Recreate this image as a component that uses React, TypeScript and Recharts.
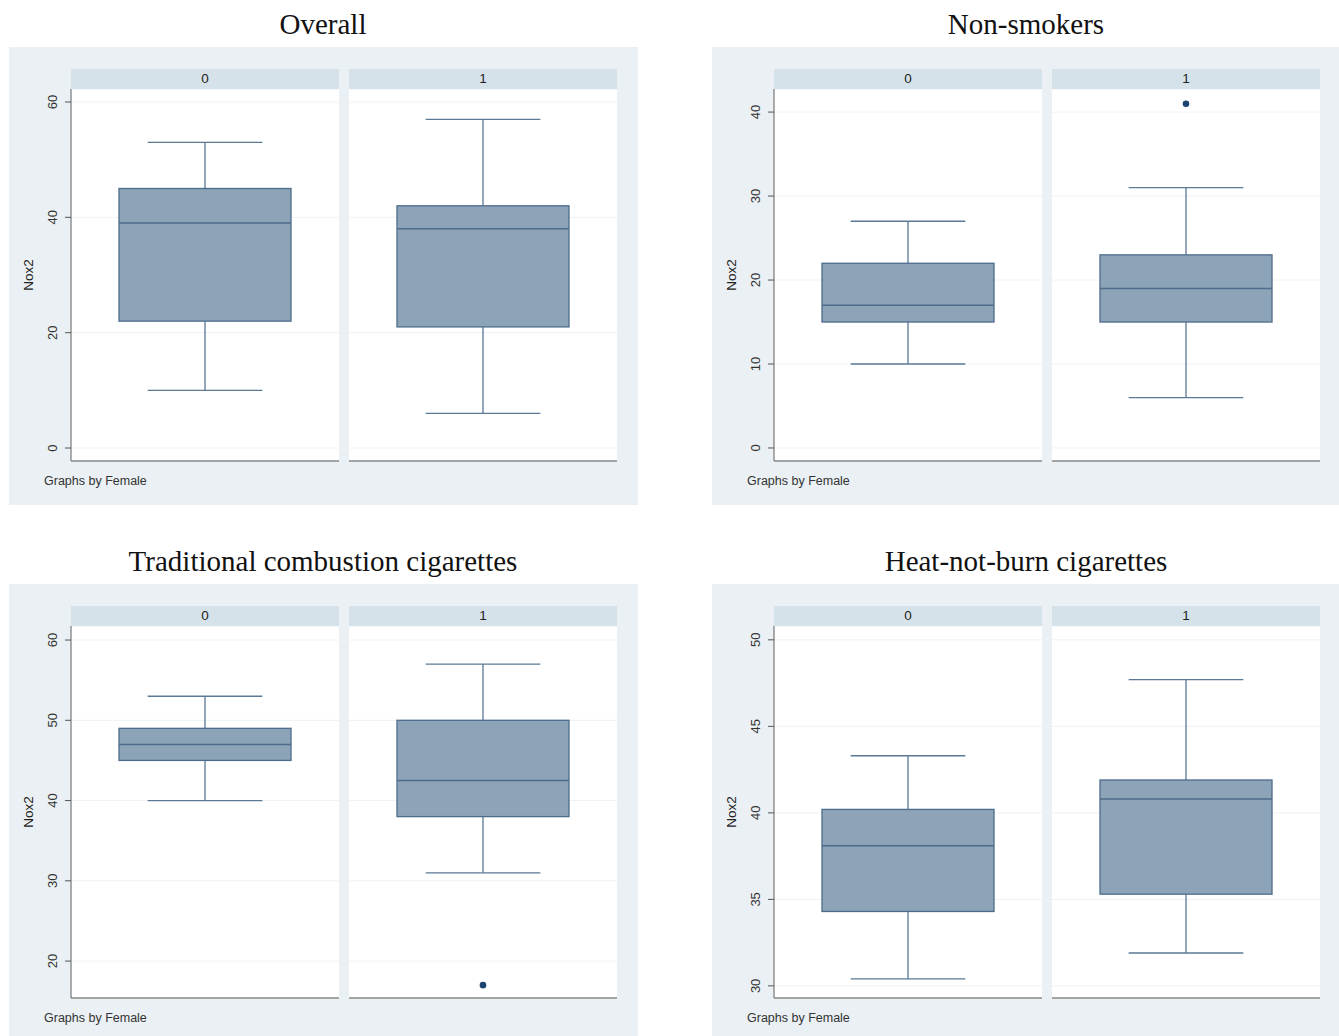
import React from 'react';
import { ComposedChart, Bar, Line, XAxis, YAxis, CartesianGrid } from 'recharts';

// ---- data ----
const panelTitles = ['Overall', 'Non-smokers', 'Traditional combustion cigarettes', 'Heat-not-burn cigarettes'];
const facetLabels = ['0', '1'];

// [min whisker, Q1, median, Q3, max whisker] per facet (Female = 0, 1)
const overallStats = [
  [10, 22, 39, 45, 53],
  [6, 21, 38, 42, 57],
];
const nonSmokerStats = [
  [10, 15, 17, 22, 27],
  [6, 15, 19, 23, 31],
];
const traditionalStats = [
  [40, 45, 47, 49, 53],
  [31, 38, 42.5, 50, 57],
];
const heatNotBurnStats = [
  [30.4, 34.3, 38.1, 40.2, 43.3],
  [31.9, 35.3, 40.8, 41.9, 47.7],
];

// outlier per facet (null = none)
const overallOutliers = [null, null];
const nonSmokerOutliers = [null, 41];
const traditionalOutliers = [null, 17];
const heatNotBurnOutliers = [null, null];

const overallTicks = [0, 20, 40, 60];
const nonSmokerTicks = [0, 10, 20, 30, 40];
const traditionalTicks = [20, 30, 40, 50, 60];
const heatNotBurnTicks = [30, 35, 40, 45, 50];

const overallDomain = [-2.25, 62.25];
const nonSmokerDomain = [-1.55, 42.75];
const traditionalDomain = [15.4, 61.75];
const heatNotBurnDomain = [29.3, 50.8];

// ---- styles ----
const BG = '#eaf0f3';
const STRIP = '#d6e2ea';
const BOX_FILL = '#8ca3b8';
const BOX_LINE = '#4d6c8b';
const WHISKER = '#5b7895';
const DOT = '#1c4470';
const AXIS = '#555';
const FONT = '"Liberation Sans", Arial, Helvetica, sans-serif';

const BoxShape = (props: any) => {
  const { x, y, width, height, payload } = props;
  const [mn, q1, med, q3, mx] = payload.stats;
  const py = (v: number) => y + (height * (mx - v)) / (mx - mn);
  const cx = x + width / 2;
  const capW = (width * 2) / 3;
  return (
    <g>
      <line x1={cx} x2={cx} y1={py(mx)} y2={py(q3)} stroke={WHISKER} strokeWidth={1.3} />
      <line x1={cx} x2={cx} y1={py(q1)} y2={py(mn)} stroke={WHISKER} strokeWidth={1.3} />
      <line x1={cx - capW / 2} x2={cx + capW / 2} y1={py(mx)} y2={py(mx)} stroke={WHISKER} strokeWidth={1.3} />
      <line x1={cx - capW / 2} x2={cx + capW / 2} y1={py(mn)} y2={py(mn)} stroke={WHISKER} strokeWidth={1.3} />
      <rect x={x} y={py(q3)} width={width} height={py(q1) - py(q3)} fill={BOX_FILL} stroke={BOX_LINE} strokeWidth={1.3} />
      <line x1={x} x2={x + width} y1={py(med)} y2={py(med)} stroke={BOX_LINE} strokeWidth={1.5} />
    </g>
  );
};

const RotTick = (props: any) => {
  const { x, y, payload } = props;
  const tx = x - 6;
  return (
    <text
      x={tx}
      y={y}
      transform={`rotate(-90, ${tx}, ${y})`}
      textAnchor="middle"
      fontSize={13}
      fill="#333"
      fontFamily={FONT}
    >
      {payload.value}
    </text>
  );
};

const OutDot = (props: any) => {
  const { cx, cy, value } = props;
  if (value === null || value === undefined || cx == null || cy == null) return <g />;
  return <circle cx={cx} cy={cy} r={3.3} fill={DOT} />;
};

type FacetProps = {
  stats: number[];
  outlier: number | null;
  ticks: number[];
  domain: number[];
  label: string;
  withAxis: boolean;
};

const Facet = ({ stats, outlier, ticks, domain, label, withAxis }: FacetProps) => {
  const data = [{ name: label, range: [stats[0], stats[4]], stats, out: outlier }];
  const axisW = withAxis ? 62 : 0;
  return (
    <ComposedChart
      width={axisW + 268}
      height={373}
      data={data}
      margin={{ top: 0, right: 0, bottom: 0, left: 0 }}
    >
      <CartesianGrid vertical={false} stroke="#eef2f5" strokeWidth={1} fill="#ffffff" />
      <XAxis
        dataKey="name"
        type="category"
        tick={false}
        tickLine={false}
        height={1}
        axisLine={{ stroke: '#888', strokeWidth: 1.5 }}
      />
      <YAxis
        type="number"
        domain={domain as any}
        ticks={ticks}
        allowDataOverflow
        hide={!withAxis}
        width={axisW}
        tick={<RotTick />}
        tickSize={6}
        tickLine={{ stroke: AXIS }}
        axisLine={{ stroke: '#777', strokeWidth: 1.2 }}
        interval={0}
        label={{
          value: 'Nox2',
          angle: -90,
          position: 'insideLeft',
          offset: 19,
          style: { fontSize: 13.5, fill: '#222', fontFamily: FONT, textAnchor: 'middle' },
        }}
      />
      <Bar dataKey="range" barSize={172} shape={<BoxShape />} isAnimationActive={false} />
      <Line
        dataKey="out"
        stroke="none"
        dot={<OutDot />}
        activeDot={false}
        legendType="none"
        isAnimationActive={false}
      />
    </ComposedChart>
  );
};

type PanelProps = {
  left: number;
  top: number;
  title: string;
  stats: number[][];
  outliers: (number | null)[];
  ticks: number[];
  domain: number[];
};

const Panel = ({ left, top, title, stats, outliers, ticks, domain }: PanelProps) => {
  return (
    <>
      <div
        style={{
          position: 'absolute',
          left: left - 9,
          top: top - 45,
          width: 646,
          height: 44,
          textAlign: 'center',
          fontFamily: '"Liberation Serif", "Times New Roman", serif',
          fontSize: 29,
          lineHeight: '44px',
          color: '#111',
        }}
      >
        {title}
      </div>
      <div
        style={{ position: 'absolute', left, top, width: 629, height: 458, background: BG }}
      />
      {facetLabels.map((lab, i) => (
        <div
          key={'s' + i}
          style={{
            position: 'absolute',
            left: left + 62 + i * 278,
            top: top + 22,
            width: 268,
            height: 20,
            background: STRIP,
            textAlign: 'center',
            fontFamily: FONT,
            fontSize: 13.5,
            lineHeight: '20px',
            color: '#222',
          }}
        >
          {lab}
        </div>
      ))}
      <div style={{ position: 'absolute', left, top: top + 42 }}>
        <Facet
          stats={stats[0]}
          outlier={outliers[0]}
          ticks={ticks}
          domain={domain}
          label={facetLabels[0]}
          withAxis={true}
        />
      </div>
      <div style={{ position: 'absolute', left: left + 340, top: top + 42 }}>
        <Facet
          stats={stats[1]}
          outlier={outliers[1]}
          ticks={ticks}
          domain={domain}
          label={facetLabels[1]}
          withAxis={false}
        />
      </div>
      <div
        style={{
          position: 'absolute',
          left: left + 35,
          top: top + 427,
          fontFamily: FONT,
          fontSize: 12.5,
          color: '#333',
          fontWeight: 500,
        }}
      >
        Graphs by Female
      </div>
    </>
  );
};

export default function App() {
  return (
    <div
      style={{
        position: 'absolute',
        left: 0,
        top: 0,
        width: 1339,
        height: 1036,
        background: '#fff',
        overflow: 'hidden',
      }}
    >
      <Panel left={9} top={47} title={panelTitles[0]} stats={overallStats} outliers={overallOutliers} ticks={overallTicks} domain={overallDomain} />
      <Panel left={712} top={47} title={panelTitles[1]} stats={nonSmokerStats} outliers={nonSmokerOutliers} ticks={nonSmokerTicks} domain={nonSmokerDomain} />
      <Panel left={9} top={584} title={panelTitles[2]} stats={traditionalStats} outliers={traditionalOutliers} ticks={traditionalTicks} domain={traditionalDomain} />
      <Panel left={712} top={584} title={panelTitles[3]} stats={heatNotBurnStats} outliers={heatNotBurnOutliers} ticks={heatNotBurnTicks} domain={heatNotBurnDomain} />
    </div>
  );
}
